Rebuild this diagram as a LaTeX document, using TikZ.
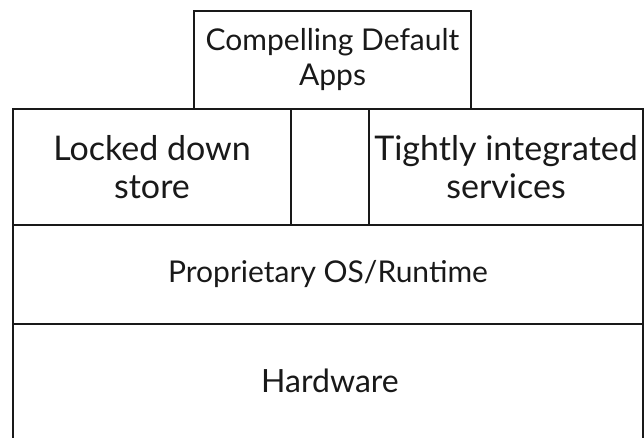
\documentclass[tikz,border=0pt]{standalone}
\usepackage{fontspec}
\setmainfont{Lato}
\begin{document}
\begin{tikzpicture}[x=1pt,y=-1pt,
  layer/.style={draw=black!90, line width=1.8pt, rectangle, inner sep=0pt, align=center, text=black!90},
  small/.style={font=\fontsize{30}{35}\selectfont},
  big/.style={font=\fontsize{34}{38}\selectfont}]
\useasboundingbox (0,0) rectangle (644,437);
\clip (0,0) rectangle (644,437);
\node[layer, small, minimum width=277pt, minimum height=98pt] (apps) at (332.5,60) {Compelling Default\\Apps};
\node[layer, big, minimum width=278pt, minimum height=116pt] (store) at (152,167) {Locked down\\store};
\node[layer, minimum width=78pt, minimum height=116pt] (gap) at (330,167) {};
\node[layer, big, minimum width=274pt, minimum height=116pt] (services) at (506,167) {Tightly integrated\\services};
\node[layer, small, minimum width=630pt, minimum height=99pt] (os) at (328,274.5) {Proprietary OS/Runtime};
\node[layer, minimum width=630pt, minimum height=140pt] (hw) at (328,394) {};
\node[font=\fontsize{32}{36}\selectfont, text=black!90] (hwtext) at (330,381) {Hardware};
\end{tikzpicture}
\end{document}
